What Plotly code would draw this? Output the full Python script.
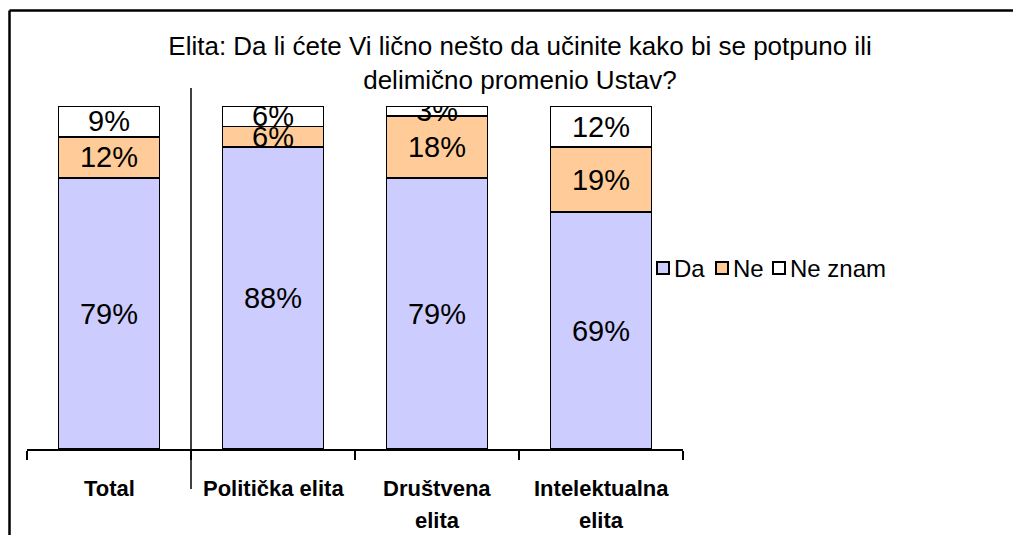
import plotly.graph_objects as go

# ---- data ----
categories = ["Total", "Politička elita", "Društvena elita", "Intelektualna elita"]
category_label_lines = [["Total"], ["Politička elita"], ["Društvena", "elita"], ["Intelektualna", "elita"]]
series_names = ["Da", "Ne", "Ne znam"]
da = [79, 88, 79, 69]
ne = [12, 6, 18, 19]
ne_znam = [9, 6, 3, 12]
series_values = [da, ne, ne_znam]
series_colors = ["#CCCCFF", "#FFCC99", "#FFFFFF"]
title_text = "Elita: Da li ćete Vi lično nešto da učinite kako bi se potpuno ili<br>delimično promenio Ustav?"

# ---- layout geometry (screen pixels; body margin removed below) ----
W, H = 1013, 535
L, R = 27, 683
T, B = 106, 449
PW, PH = R - L, B - T


def px(x):
    return (x - L) / PW


def py(y):
    return (B - y) / PH


FONT = "Liberation Sans, Arial, sans-serif"

fig = go.Figure()
for name, vals, col in zip(series_names, series_values, series_colors):
    fig.add_trace(go.Bar(
        x=categories, y=vals, name=name,
        marker=dict(color=col, line=dict(color="black", width=1.8)),
        texttemplate="%{y}%", textposition="inside", insidetextanchor="middle",
        textfont=dict(family=FONT, size=29, color="black"),
        constraintext="none", showlegend=False,
    ))

shapes = []
annotations = []

# category labels
for cat, lines in zip(categories, category_label_lines):
    for i, line in enumerate(lines):
        annotations.append(dict(
            x=cat, xref="x", y=py(488 + 32 * i), yref="paper",
            text="<b>%s</b>" % line, showarrow=False, xanchor="center", yanchor="middle",
            font=dict(family=FONT, size=22, color="black"),
        ))

# separator between Total and the rest
shapes.append(dict(type="line", xref="paper", yref="paper", x0=0.25, x1=0.25,
                   y0=py(489), y1=py(88), line=dict(color="black", width=1.5)))

# outer frame (left and top edges)
shapes.append(dict(type="line", xref="paper", yref="paper", x0=px(9.5), x1=px(9.5),
                   y0=py(10.5), y1=py(560), line=dict(color="black", width=2.5)))
shapes.append(dict(type="line", xref="paper", yref="paper", x0=px(9.5), x1=px(1040),
                   y0=py(10.5), y1=py(10.5), line=dict(color="black", width=2.5)))

# manual legend
leg_x = [657, 716, 773]
leg_y = 268
for name, col, x0 in zip(series_names, series_colors, leg_x):
    shapes.append(dict(type="rect", xref="paper", yref="paper",
                       x0=px(x0), x1=px(x0 + 12), y0=py(leg_y + 6), y1=py(leg_y - 6),
                       fillcolor=col, line=dict(color="black", width=2)))
    annotations.append(dict(x=px(x0 + 15), xref="paper", y=py(leg_y), yref="paper",
                            text=name, showarrow=False, xanchor="left", yanchor="middle",
                            font=dict(family=FONT, size=24, color="black")))

fig.update_layout(
    width=W, height=H,
    margin=dict(l=L, r=W - R, t=T, b=H - B, pad=0),
    barmode="stack", bargap=0.385,
    plot_bgcolor="white", paper_bgcolor="white",
    title=dict(text=title_text, x=520 / W, xanchor="center", xref="container",
               y=1 - 55 / H, yanchor="middle", yref="container",
               font=dict(family=FONT, size=26, color="black")),
    xaxis=dict(type="category", range=[-0.5, 3.5], showline=True, linecolor="black",
               linewidth=2, ticks="outside", tickson="boundaries", ticklen=9,
               tickwidth=2, tickcolor="black", showticklabels=False, showgrid=False,
               zeroline=False),
    yaxis=dict(range=[0, 100], visible=False, showgrid=False, zeroline=False),
    uniformtext=dict(minsize=29, mode="show"),
    shapes=shapes, annotations=annotations,
    showlegend=False,
)

fig.write_html("out.html", config={"displayModeBar": False},
               post_script="document.body.style.margin='0';document.body.style.overflow='hidden';")
